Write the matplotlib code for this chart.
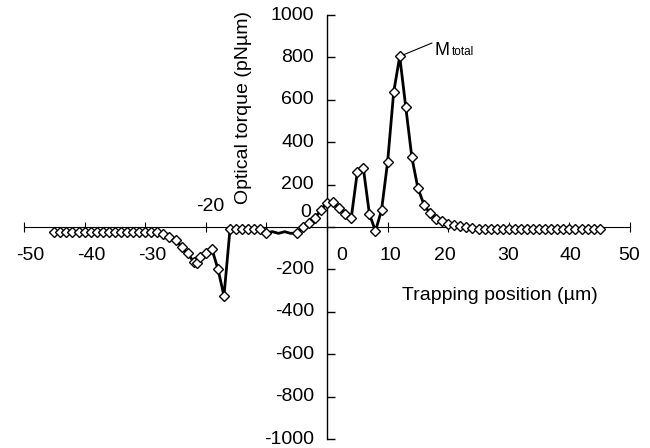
import matplotlib
matplotlib.use("Agg")
import matplotlib.pyplot as plt
import numpy as np

plt.rcParams['font.family'] = ['Liberation Sans', 'DejaVu Sans']

# ---- data ----
positions = [-45, -44, -43, -42, -41, -40, -39, -38, -37, -36, -35, -34, -33, -32, -31, -30, -29,
             -28, -27, -26, -25, -24, -23, -22, -21.4, -21, -20, -19, -18, -17, -16,
             -15, -14, -13, -12, -11, -10, -9, -8, -7, -6, -5,
             -4, -3, -2, -1, 0, 1, 2, 3, 4, 5, 6, 7, 8, 9, 10,
             11, 12, 13, 14, 15, 16, 17, 18, 19, 20,
             21, 22, 23, 24, 25, 26, 27, 28, 29, 30, 31, 32, 33, 34, 35,
             36, 37, 38, 39, 40, 41, 42, 43, 44, 45]
torque = [-22, -22, -22, -22, -22, -22, -22, -22, -22, -22, -22, -22, -22, -22, -22, -22, -22,
          -24, -33, -47, -61, -92, -125, -164, -170, -143, -122, -103, -198, -325, -9,
          -9, -9, -9, -9, -9, -28, -22, -30, -22, -30, -28,
          0, 19, 42, 80, 115, 118, 89, 61, 42, 259, 277, 61, -19, 80, 306,
          635, 805, 565, 329, 183, 106, 64, 40, 26, 15,
          8, 3, 0, -4, -8, -8, -8, -8, -8, -8, -8, -8, -8, -8, -8,
          -8, -8, -8, -8, -8, -8, -8, -8, -8, -8]
# points drawn without a marker (thin wiggle between -9 and -6)
no_marker_positions = [-9, -8, -7, -6]

x_ticks = [-50, -40, -30, -20, -10, 0, 10, 20, 30, 40, 50]
x_tick_labels = ['-50', '-40', '-30', '-20', '', '0', '10', '20', '30', '40', '50']
y_ticks = [-1000, -800, -600, -400, -200, 0, 200, 400, 600, 800, 1000]
y_tick_labels = ['-1000', '-800', '-600', '-400', '-200', '0', '200', '400', '600', '800', '1000']

W, H = 650, 448
fig = plt.figure(figsize=(W / 100, H / 100), dpi=100)
ax = fig.add_axes([24 / W, 9 / H, 606 / W, 424 / H])
ax.set_xlim(-50, 50)
ax.set_ylim(-1000, 1000)

for s in ['top', 'right']:
    ax.spines[s].set_visible(False)
ax.spines['left'].set_position(('data', 0))
ax.spines['bottom'].set_position(('data', 0))
ax.spines['left'].set_linewidth(1.0)
ax.spines['bottom'].set_linewidth(0.8)

marker_idx = [i for i, p in enumerate(positions) if p not in no_marker_positions]
ax.plot(positions, torque, color='black', lw=2.0, zorder=3,
        marker='D', markersize=5, markerfacecolor='white', markeredgecolor='black',
        markeredgewidth=1.0, markevery=marker_idx)

ax.set_xticks(x_ticks)
ax.set_xticklabels([])
ax.set_yticks(y_ticks)
ax.set_yticklabels([])
ax.tick_params(axis='x', direction='inout', length=7, width=0.8)
ax.tick_params(axis='y', direction='in', length=6, width=1.0)

fs = 14
# x tick labels, placed below (or above) the axis with small pixel offsets
x_label_offsets = {-50: (6, -28), -40: (7, -28), -30: (7, -28), -20: (4, 21),
                   0: (15, -28), 10: (3, -28), 20: (-3, -28), 30: (-1, -28),
                   40: (1, -28), 50: (-1, -28)}
for t, lab in zip(x_ticks, x_tick_labels):
    if not lab:
        continue
    dx, dy = x_label_offsets[t]
    ax.annotate(lab, xy=(t, 0), xytext=(dx * 0.72, dy * 0.72), textcoords='offset points',
                ha='center', va='center', fontsize=fs)

# y tick labels, right aligned left of the axis
for t, lab in zip(y_ticks, y_tick_labels):
    dy = 15 if t == 0 else 0
    dx = -16 if t == 0 else -13
    ax.annotate(lab, xy=(0, t), xytext=(dx * 0.72, dy * 0.72), textcoords='offset points',
                ha='right', va='center', fontsize=fs)

# axis titles
fig.text(243 / W, 1 - 108 / H, 'Optical torque (pN\u00b5m)', rotation=90,
         ha='center', va='center', fontsize=fs)
fig.text(500 / W, 1 - 295 / H, 'Trapping position (\u00b5m)',
         ha='center', va='center', fontsize=fs)

# M_total annotation
i_peak = int(np.argmax(torque))
ax.annotate('', xy=(positions[i_peak], torque[i_peak]), xytext=(432 / W, 1 - 43 / H),
            textcoords='figure fraction',
            arrowprops=dict(arrowstyle='-', color='black', lw=0.8, shrinkA=0, shrinkB=3))
fig.text(435 / W, 1 - 55 / H, 'M', ha='left', va='baseline', fontsize=13)
fig.text(452 / W, 1 - 55 / H, 'total', ha='left', va='baseline', fontsize=8.5)

fig.savefig('out.png', dpi=100)
